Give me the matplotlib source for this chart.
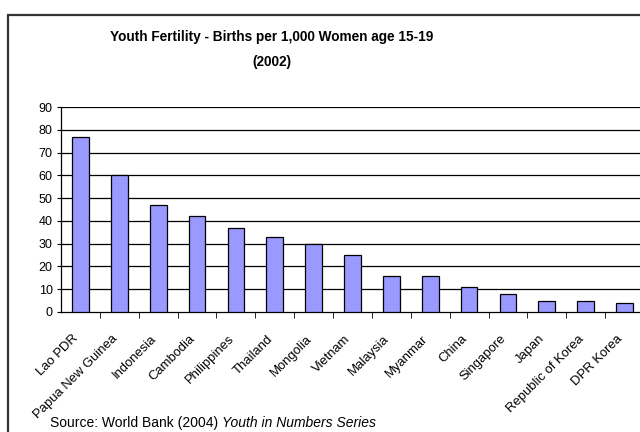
import numpy as np
import matplotlib.pyplot as plt
import matplotlib.transforms as mtransforms
from matplotlib.patches import Rectangle

countries = [
    "Lao PDR", "Papua New Guinea", "Indonesia", "Cambodia", "Philippines",
    "Thailand", "Mongolia", "Vietnam", "Malaysia", "Myanmar", "China",
    "Singapore", "Japan", "Republic of Korea", "DPR Korea",
]
births = [77, 60, 47, 42, 37, 33, 30, 25, 16, 16, 11, 8, 5, 5, 4]
y_ticks = list(range(0, 100, 10))

plt.rcParams["font.family"] = ["Liberation Sans", "DejaVu Sans"]

fig = plt.figure(figsize=(6.4, 4.32), dpi=100, facecolor="white")
# outer chart border (cropped on the right and bottom, like the source)
fig.patches.append(Rectangle((8 / 640, -0.2), 1.2, 1 - 15 / 432 + 0.2,
                             transform=fig.transFigure, fill=False,
                             edgecolor="#333333", linewidth=1.6))

ax = fig.add_axes([61 / 640, 1 - 312 / 432, 583 / 640, 205 / 432])
x = np.arange(len(countries))
ax.bar(x, births, width=0.43, color="#9999FF", edgecolor="black",
       linewidth=0.9, zorder=3)

ax.set_xlim(-0.5, len(countries) - 0.5)
ax.set_ylim(0, 90)
ax.set_yticks(y_ticks)
ax.tick_params(axis="y", labelsize=9, length=3, direction="out", pad=3)
for v in y_ticks[1:]:
    ax.axhline(v, color="black", linewidth=0.9, zorder=1)

ax.set_xticks(x)
ax.set_xticklabels(countries, rotation=45, ha="right",
                   rotation_mode="anchor", fontsize=9.4)
ax.tick_params(axis="x", length=0, pad=7)
ax.set_xticks(np.arange(len(countries)) + 0.5, minor=True)
ax.tick_params(axis="x", which="minor", length=4, direction="out")
shift = mtransforms.ScaledTranslation(-8 / 100, -11 / 100, fig.dpi_scale_trans)
for lbl in ax.get_xticklabels():
    lbl.set_transform(lbl.get_transform() + shift)

for s in ["top", "right"]:
    ax.spines[s].set_visible(False)
ax.spines["left"].set_linewidth(0.9)
ax.spines["bottom"].set_linewidth(0.9)

fig.text(272 / 640, 1 - 37 / 432, "Youth Fertility - Births per 1,000 Women age 15-19",
         ha="center", va="center", fontsize=9.8, fontweight="bold")
fig.text(272 / 640, 1 - 62 / 432, "(2002)",
         ha="center", va="center", fontsize=9.8, fontweight="bold")

src = fig.text(50 / 640, 1 - 423 / 432, "Source: World Bank (2004) ",
               ha="left", va="center", fontsize=10)
ax.annotate("Youth in Numbers Series", xy=(1, 0.5), xycoords=src,
            ha="left", va="center", fontsize=10, style="italic",
            annotation_clip=False)

fig.savefig("out.png", dpi=100)
